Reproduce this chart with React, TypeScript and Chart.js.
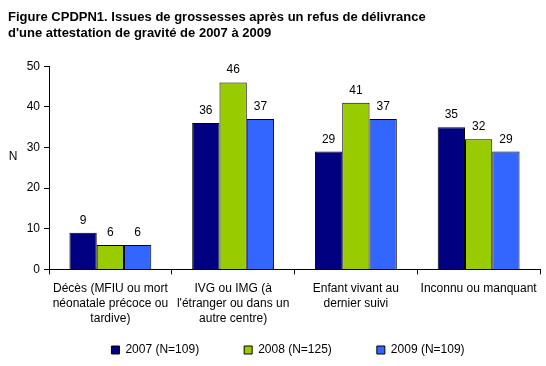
import React, { useEffect, useRef } from "react";
import { Chart, registerables } from "chart.js";

Chart.register(...registerables);

const titleLines = [
  "Figure CPDPN1. Issues de grossesses après un refus de délivrance",
  "d'une attestation de gravité de 2007 à 2009",
];
const categories = [
  ["Décès (MFIU ou mort", "néonatale précoce ou", "tardive)"],
  ["IVG ou IMG (à", "l'étranger ou dans un", "autre centre)"],
  ["Enfant vivant au", "dernier suivi"],
  ["Inconnu ou manquant"],
];
const seriesNames = ["2007 (N=109)", "2008 (N=125)", "2009 (N=109)"];
const values2007 = [9, 36, 29, 35];
const values2008 = [6, 46, 41, 32];
const values2009 = [6, 37, 37, 29];
const seriesColors = ["#000080", "#99CC00", "#3366FF"];
const yTicks = [0, 10, 20, 30, 40, 50];
const yAxisTitle = "N";

const FONT = "'Liberation Sans', Arial, sans-serif";

const valueLabels = {
  id: "valueLabels",
  afterDatasetsDraw(chart: any) {
    const ctx = chart.ctx;
    ctx.save();
    ctx.font = `12px ${FONT}`;
    ctx.fillStyle = "#000";
    ctx.textAlign = "center";
    ctx.textBaseline = "alphabetic";
    chart.data.datasets.forEach((ds: any, i: number) => {
      const meta = chart.getDatasetMeta(i);
      meta.data.forEach((el: any, j: number) => {
        ctx.fillText(String(ds.data[j]), el.x, el.y - 9);
      });
    });
    ctx.restore();
  },
  afterDraw(chart: any) {
    const ctx = chart.ctx;
    ctx.save();
    ctx.font = `12px ${FONT}`;
    ctx.fillStyle = "#000";
    ctx.textAlign = "center";
    ctx.textBaseline = "middle";
    ctx.fillText(yAxisTitle, 13, 157);
    ctx.restore();
  },
};

const layoutTweaks = {
  id: "layoutTweaks",
  afterLayout(chart: any) {
    const lg = chart.legend;
    if (lg) {
      lg.left += 14;
      lg.right += 14;
    }
    const x = chart.scales.x;
    if (x) {
      x.bottom = chart.height;
    }
  },
};

export default function App() {
  const ref = useRef<HTMLCanvasElement>(null);
  useEffect(() => {
    if (!ref.current) return;
    const chart = new Chart(ref.current, {
      type: "bar",
      data: {
        labels: categories as any,
        datasets: [values2007, values2008, values2009].map((d, i) => ({
          label: seriesNames[i],
          data: d,
          backgroundColor: seriesColors[i],
          borderColor: "#000",
          borderWidth: 1,
          categoryPercentage: 0.667,
          barPercentage: 1,
        })),
      },
      options: {
        responsive: false,
        animation: false,
        devicePixelRatio: 1,
        events: [],
        layout: { padding: { left: 8, right: 6, top: 0, bottom: 0 } },
        plugins: {
          title: {
            display: true,
            text: titleLines,
            align: "start",
            color: "#000",
            font: { family: FONT, size: 13, weight: "bold", lineHeight: 1.2 },
            padding: { top: 10, bottom: 25 },
          },
          legend: {
            display: true,
            position: "bottom",
            labels: {
              color: "#000",
              font: { family: FONT, size: 12 },
              boxWidth: 8,
              boxHeight: 8,
              padding: 45,
            },
          },
          tooltip: { enabled: false },
        },
        scales: {
          x: {
            grid: {
              display: true,
              drawOnChartArea: false,
              drawTicks: true,
              tickLength: 5,
              color: "#000",
              offset: true,
            },
            border: { display: true, color: "#000", width: 1 },
            ticks: {
              color: "#000",
              font: { family: FONT, size: 12, lineHeight: 1.25 },
              padding: 7,
              maxRotation: 0,
              autoSkip: false,
            },
            afterFit(scale: any) {
              scale.height = 29.6;
            },
          },
          y: {
            min: 0,
            max: 50,
            afterBuildTicks(scale: any) {
              scale.ticks = yTicks.map((v) => ({ value: v }));
            },
            grid: {
              display: true,
              drawOnChartArea: false,
              drawTicks: true,
              tickLength: 5,
              color: "#000",
            },
            border: { display: true, color: "#000", width: 1 },
            ticks: {
              color: "#000",
              font: { family: FONT, size: 12 },
              padding: 4,
            },
            afterFit(scale: any) {
              scale.width = 41;
            },
          },
        },
      },
      plugins: [valueLabels, layoutTweaks],
    });
    return () => chart.destroy();
  }, []);
  return (
    <div style={{ position: "absolute", left: 0, top: 0, width: 546, height: 366, background: "#fff" }}>
      <canvas ref={ref} width={546} height={366} style={{ display: "block", width: 546, height: 366 }} />
    </div>
  );
}
